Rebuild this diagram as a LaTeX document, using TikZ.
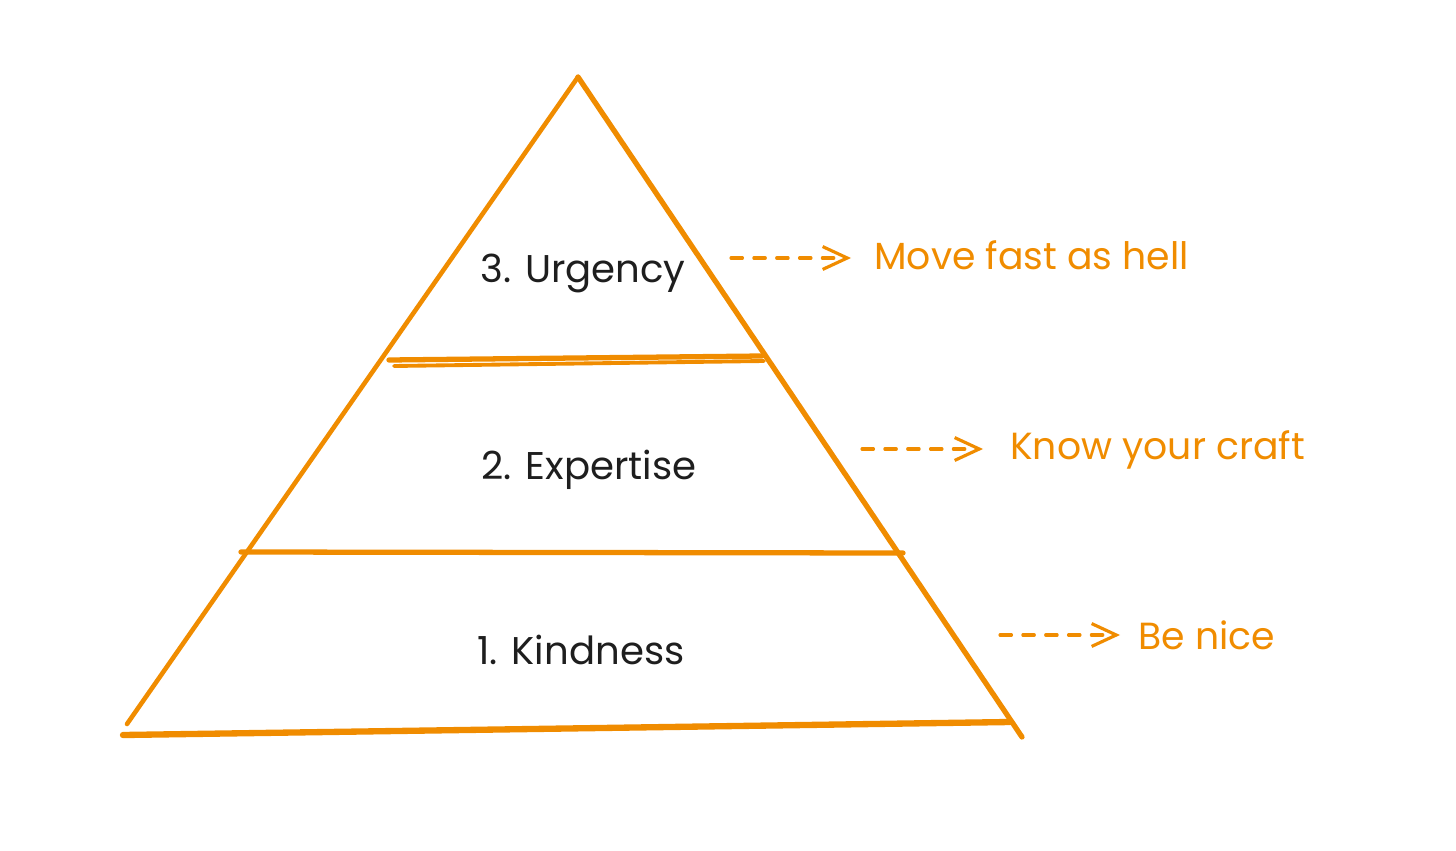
\documentclass[tikz,border=0pt]{standalone}
\usepackage{fontspec}
\setmainfont{Poppins}
\usepackage{xcolor}
\usetikzlibrary{positioning,arrows.meta}
\definecolor{xorange}{HTML}{F08C00}
\definecolor{xink}{HTML}{1E1E1E}

\begin{document}
\begin{tikzpicture}[x=0.02cm,y=-0.02cm,edge/.style={draw=xorange,line width=2.6pt,line cap=round},lvl/.style={font=\fontsize{22}{26}\selectfont,text=xink},note/.style={font=\fontsize{21.5}{25}\selectfont,text=xorange,anchor=west,inner sep=0pt},ptr/.style={draw=xorange,line width=1.8pt,line cap=round,dash pattern=on 6.5pt off 6.5pt,-{Straight Barb[length=14pt,width=13pt,line width=1.8pt]}}]
\useasboundingbox (0,0) rectangle (1456,851);
\coordinate (top) at (578,77);
\coordinate (bl) at (127,724);
\coordinate (br) at (1022,737);
\draw[edge] (top)--(bl); \draw[edge,line width=3pt] (top)--(br);
\draw[edge,line width=3.6pt] (123,735)--(1010,722);
\draw[edge,line width=3pt] (389,360)--(762,356); \draw[edge,line width=2.2pt] (394,366)--(764,361);
\draw[edge,line width=3pt] (241,552)--(903,553);
\node[lvl] (l3) at (583,273) {3. Urgency};
\node[lvl] (l2) at (589,470) {2. Expertise};
\node[lvl] (l1) at (581,650) {1. Kindness};
\node[note] (n3) at (874,255) {Move fast as hell};
\node[note] (n2) at (1010,450) {Know your craft};
\node[note] (n1) at (1138,635) {Be nice};
\coordinate (a3) at (731,258); \coordinate (b3) at (851,258);
\coordinate (a2) at (862,449); \coordinate (b2) at (983,449);
\coordinate (a1) at (1000,635); \coordinate (b1) at (1120,635);
\draw[ptr] (a3)--(b3); \draw[ptr] (a2)--(b2); \draw[ptr] (a1)--(b1);
\end{tikzpicture}
\end{document}
